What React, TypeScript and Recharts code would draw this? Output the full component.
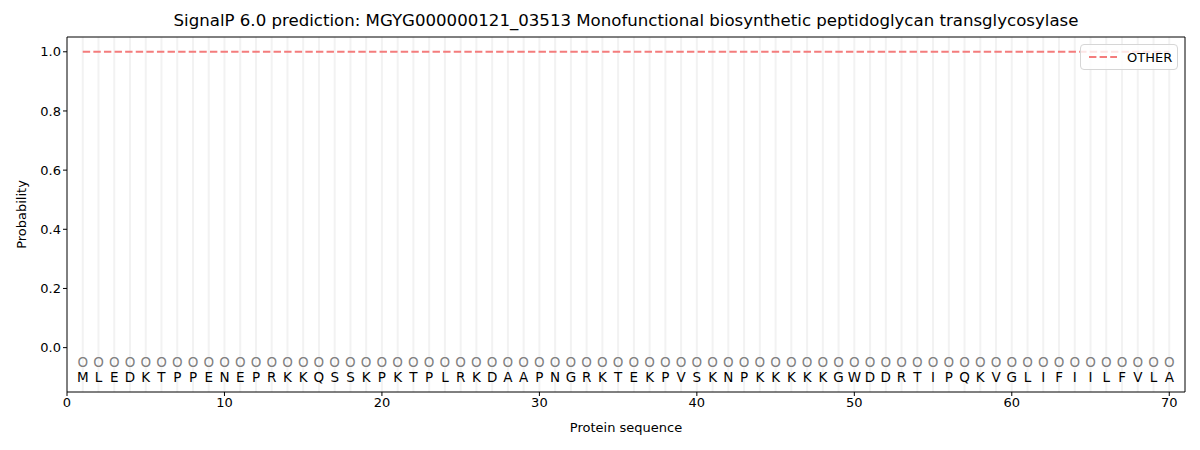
import { ComposedChart, Line, Scatter, XAxis, YAxis, ReferenceLine } from "recharts";

const residues = [
  "M", "L", "E", "D", "K", "T", "P", "P", "E", "N",
  "E", "P", "R", "K", "K", "Q", "S", "S", "K", "P",
  "K", "T", "P", "L", "R", "K", "D", "A", "A", "P",
  "N", "G", "R", "K", "T", "E", "K", "P", "V", "S",
  "K", "N", "P", "K", "K", "K", "K", "K", "G", "W",
  "D", "D", "R", "T", "I", "P", "Q", "K", "V", "G",
  "L", "I", "F", "I", "I", "L", "F", "V", "L", "A",
];

// per-position probability of the OTHER class
const otherProb = [
  1, 1, 1, 1, 1, 1, 1, 1, 1, 1,
  1, 1, 1, 1, 1, 1, 1, 1, 1, 1,
  1, 1, 1, 1, 1, 1, 1, 1, 1, 1,
  1, 1, 1, 1, 1, 1, 1, 1, 1, 1,
  1, 1, 1, 1, 1, 1, 1, 1, 1, 1,
  1, 1, 1, 1, 1, 1, 1, 1, 1, 1,
  1, 1, 1, 1, 1, 1, 1, 1, 1, 1,
];

// predicted label per position (all "O")
const predicted = residues.map(() => "O");

const xTicks = [0, 10, 20, 30, 40, 50, 60, 70];
const yTicks = [0, 0.2, 0.4, 0.6, 0.8, 1.0];

const title =
  "SignalP 6.0 prediction: MGYG000000121_03513 Monofunctional biosynthetic peptidoglycan transglycosylase";

const font = "'DejaVu Sans', sans-serif";

const lineData = otherProb.map((p, i) => ({ pos: i + 1, other: p }));
const markData = predicted.map((m, i) => ({ pos: i + 1, y: -0.05, t: m }));
const letterData = residues.map((r, i) => ({ pos: i + 1, y: -0.1, t: r }));

const textShape = (color: string) => (props: any) => {
  const { cx, cy, payload } = props;
  return (
    <text
      x={cx}
      y={cy}
      textAnchor="middle"
      dominantBaseline="central"
      fontSize={13.5}
      fontFamily={font}
      fill={color}
    >
      {payload.t}
    </text>
  );
};

export default function App() {
  return (
    <div style={{ position: "absolute", left: 0, top: 0, width: 1200, height: 450, background: "#fff", fontFamily: font }}>
      <div
        style={{
          position: "absolute",
          top: 11,
          left: 67,
          width: 1118,
          textAlign: "center",
          fontSize: 16.6,
          color: "#000",
          whiteSpace: "nowrap",
        }}
      >
        {title}
      </div>
      <ComposedChart
        width={1200}
        height={450}
        margin={{ top: 37, right: 15, bottom: 0, left: 0 }}
        style={{ position: "absolute", left: 0, top: 0 }}
      >
        {lineData.map((d) => (
          <ReferenceLine key={d.pos} x={d.pos} stroke="#f2f2f2" strokeWidth={2} ifOverflow="hidden" />
        ))}
        <XAxis
          dataKey="pos"
          type="number"
          domain={[0, 71]}
          ticks={xTicks}
          height={58}
          stroke="#000"
          tickSize={4}
          tick={{ fill: "#000", fontSize: 13, fontFamily: font }}
          allowDuplicatedCategory={false}
          label={{ value: "Protein sequence", position: "insideBottom", offset: 18, fill: "#000", fontSize: 13, fontFamily: font }}
        />
        <YAxis
          type="number"
          domain={[-0.15, 1.05]}
          ticks={yTicks}
          width={67}
          stroke="#000"
          tickSize={4}
          allowDataOverflow
          tickFormatter={(v: number) => v.toFixed(1)}
          tick={{ fill: "#000", fontSize: 13, fontFamily: font }}
          label={{ value: "Probability", angle: -90, position: "insideLeft", offset: 21, fill: "#000", fontSize: 13, fontFamily: font, style: { textAnchor: "middle" } }}
        />
        <Line
          data={lineData}
          dataKey="other"
          type="linear"
          stroke="#f47c7c"
          strokeWidth={2}
          strokeDasharray="7.4 3.2"
          dot={false}
          activeDot={false}
          isAnimationActive={false}
        />
        <Scatter data={markData} dataKey="y" shape={textShape("#808080")} isAnimationActive={false} />
        <Scatter data={letterData} dataKey="y" shape={textShape("#000")} isAnimationActive={false} />
        {/* right and top frame */}
        <ReferenceLine y={1.05} stroke="#000" ifOverflow="extendDomain" />
        <ReferenceLine x={71} stroke="#000" ifOverflow="extendDomain" />
      </ComposedChart>
      <div
        style={{
          position: "absolute",
          left: 1080,
          top: 44,
          width: 96,
          height: 24,
          border: "1px solid #d6d6d6",
          borderRadius: 4,
          background: "rgba(255,255,255,0.8)",
          display: "flex",
          alignItems: "center",
          fontSize: 13,
          color: "#000",
        }}
      >
        <svg width={40} height={10} style={{ marginLeft: 6 }}>
          <line x1={2} y1={5} x2={30} y2={5} stroke="#f47c7c" strokeWidth={2} strokeDasharray="7.4 3.2" />
        </svg>
        <span>OTHER</span>
      </div>
    </div>
  );
}
